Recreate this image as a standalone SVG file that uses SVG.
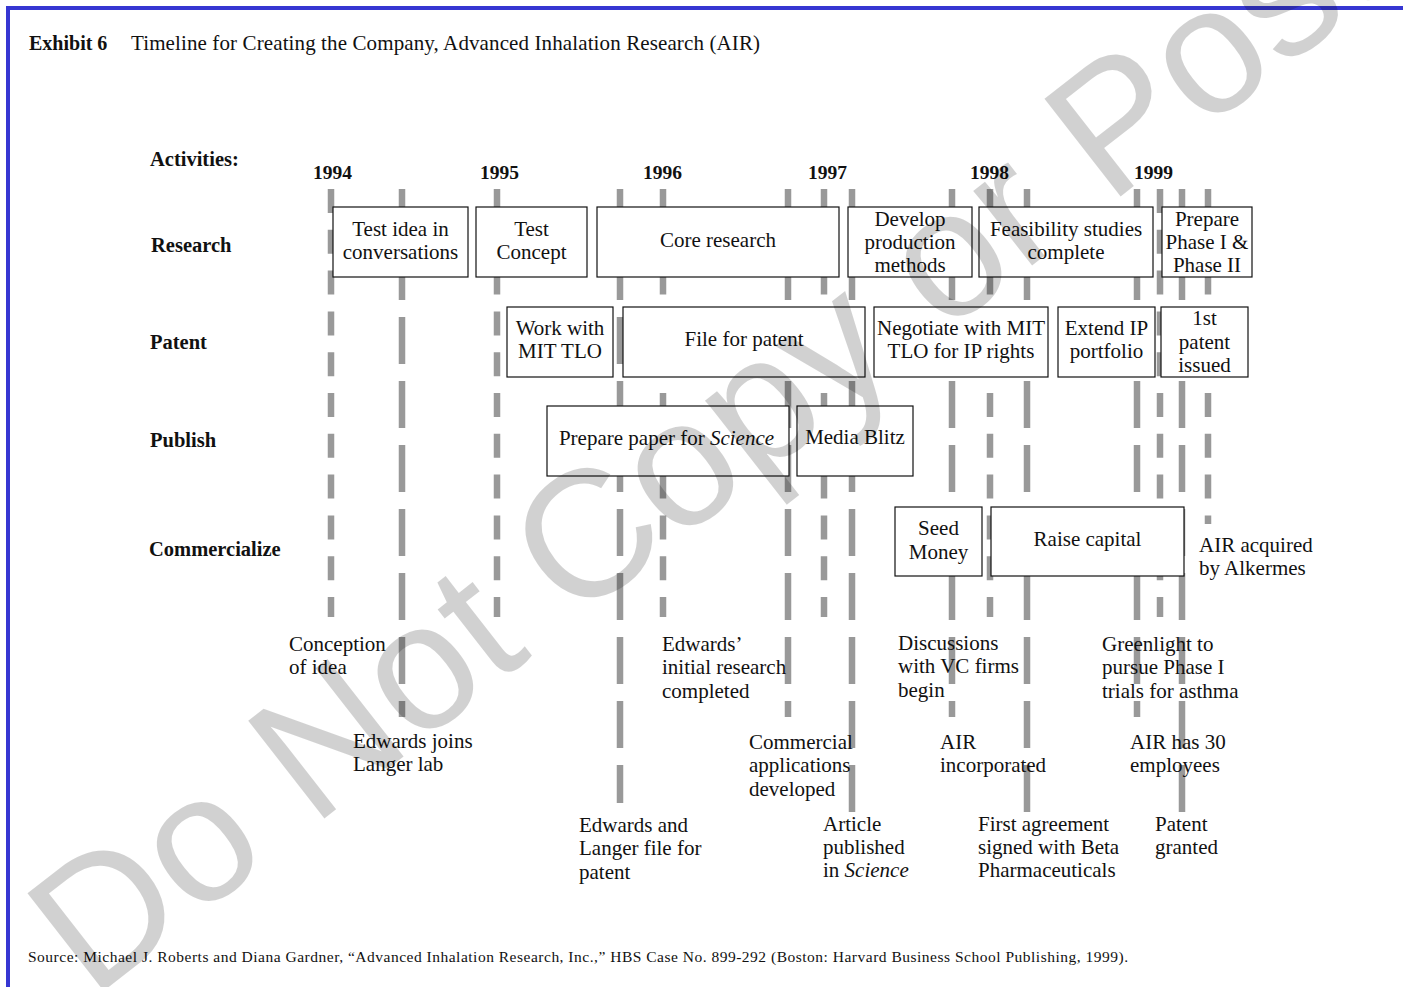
<svg xmlns="http://www.w3.org/2000/svg" width="1403" height="987" viewBox="0 0 1403 987">
<style>
text{font-family:"Liberation Serif","Times New Roman",serif;font-size:21px;fill:#111}
.b{font-weight:bold;font-size:20.5px}
.yr{font-weight:bold;font-size:19.5px}
.c{text-anchor:middle}
.i{font-style:italic}
.box{fill:#fff;stroke:#111;stroke-width:1.2}
.ln{stroke:#999;stroke-width:6.5;fill:none}
.s{stroke-dasharray:24 16.8}
.l{stroke-dasharray:47 17}
.wm{font-family:"Liberation Sans",Arial,sans-serif;font-size:180px;fill:#000;fill-opacity:0.18}
</style>
<rect x="0" y="0" width="1403" height="987" fill="#fff"/>
<g id="frame">
<line x1="6" y1="8" x2="1403" y2="8" stroke="#3636d2" stroke-width="4"/>
<line x1="8" y1="6" x2="8" y2="987" stroke="#3636d2" stroke-width="4"/>
</g>
<g id="title">
<text x="29" y="50" style="font-weight:bold;font-size:20px">Exhibit 6</text>
<text x="131" y="50" textLength="629" lengthAdjust="spacing">Timeline for Creating the Company, Advanced Inhalation Research (AIR)</text>
</g>
<g id="row-labels">
<text class="b" x="150" y="166">Activities:</text>
<text class="b" x="151" y="252">Research</text>
<text class="b" x="150" y="349">Patent</text>
<text class="b" x="150" y="447">Publish</text>
<text class="b" x="149" y="556">Commercialize</text>
</g>
<g id="years">
<text class="yr" x="313" y="179">1994</text>
<text class="yr" x="480" y="179">1995</text>
<text class="yr" x="643" y="179">1996</text>
<text class="yr" x="808" y="179">1997</text>
<text class="yr" x="970" y="179">1998</text>
<text class="yr" x="1134" y="179">1999</text>
</g>
<g id="connectors">
<line class="ln s" x1="331" y1="189" x2="331" y2="617"/>
<line class="ln l" x1="402" y1="189" x2="402" y2="717"/>
<line class="ln s" x1="497" y1="189" x2="497" y2="617"/>
<line class="ln l" x1="620" y1="189" x2="620" y2="803"/>
<line class="ln s" x1="663" y1="189" x2="663" y2="617"/>
<line class="ln l" x1="788" y1="189" x2="788" y2="717"/>
<line class="ln s" x1="824" y1="189" x2="824" y2="617"/>
<line class="ln l" x1="852" y1="189" x2="852" y2="812"/>
<line class="ln l" x1="952" y1="189" x2="952" y2="717"/>
<line class="ln s" x1="990" y1="189" x2="990" y2="617"/>
<line class="ln l" x1="1027" y1="189" x2="1027" y2="812"/>
<line class="ln l" x1="1137" y1="189" x2="1137" y2="717"/>
<line class="ln s" x1="1160" y1="189" x2="1160" y2="617"/>
<line class="ln l" x1="1182" y1="189" x2="1182" y2="812"/>
<line class="ln s" x1="1208" y1="189" x2="1208" y2="524"/>
</g>
<g id="n-test-idea"><rect class="box" x="333" y="207" width="135" height="70"/><text class="c" x="400.5" y="236">Test idea in</text><text class="c" x="400.5" y="259">conversations</text></g>
<g id="n-test-concept"><rect class="box" x="476" y="207" width="111" height="70"/><text class="c" x="531.5" y="236">Test</text><text class="c" x="531.5" y="259">Concept</text></g>
<g id="n-core-research"><rect class="box" x="597" y="207" width="242" height="70"/><text class="c" x="718" y="247">Core research</text></g>
<g id="n-develop"><rect class="box" x="848" y="207" width="124" height="70"/><text class="c" x="910" y="226">Develop</text><text class="c" x="910" y="249">production</text><text class="c" x="910" y="272">methods</text></g>
<g id="n-feasibility"><rect class="box" x="979" y="207" width="174" height="70"/><text class="c" x="1066" y="236">Feasibility studies</text><text class="c" x="1066" y="259">complete</text></g>
<g id="n-prepare-phase"><rect class="box" x="1162" y="207" width="90" height="70"/><text class="c" x="1207" y="226">Prepare</text><text class="c" x="1207" y="249">Phase I &amp;</text><text class="c" x="1207" y="272">Phase II</text></g>
<g id="n-mit-tlo"><rect class="box" x="507" y="307" width="106" height="70"/><text class="c" x="560" y="335">Work with</text><text class="c" x="560" y="358">MIT TLO</text></g>
<g id="n-file-patent"><rect class="box" x="623" y="307" width="242" height="70"/><text class="c" x="744" y="346">File for patent</text></g>
<g id="n-negotiate"><rect class="box" x="874" y="307" width="174" height="70"/><text class="c" x="961" y="335">Negotiate with MIT</text><text class="c" x="961" y="358">TLO for IP rights</text></g>
<g id="n-extend-ip"><rect class="box" x="1058" y="307" width="97" height="70"/><text class="c" x="1106.5" y="335">Extend IP</text><text class="c" x="1106.5" y="358">portfolio</text></g>
<g id="n-first-patent"><rect class="box" x="1161" y="307" width="87" height="70"/><text class="c" x="1204.5" y="325">1st</text><text class="c" x="1204.5" y="349">patent</text><text class="c" x="1204.5" y="372">issued</text></g>
<g id="n-paper"><rect class="box" x="547" y="406" width="242" height="70"/><text class="c" x="666.5" y="445">Prepare paper for <tspan class="i">Science</tspan></text></g>
<g id="n-media"><rect class="box" x="797" y="406" width="116" height="70"/><text class="c" x="855" y="444">Media Blitz</text></g>
<g id="n-seed"><rect class="box" x="895" y="507" width="87" height="69"/><text class="c" x="938.5" y="535">Seed</text><text class="c" x="938.5" y="559">Money</text></g>
<g id="n-raise"><rect class="box" x="991" y="507" width="193" height="69"/><text class="c" x="1087.5" y="546">Raise capital</text></g>
<g id="m-acquired"><text x="1199" y="552">AIR acquired</text><text x="1199" y="575">by Alkermes</text></g>
<g id="m-conception"><text x="289" y="651">Conception</text><text x="289" y="674">of idea</text></g>
<g id="m-initial"><text x="662" y="651">Edwards’</text><text x="662" y="674">initial research</text><text x="662" y="698">completed</text></g>
<g id="m-discussions"><text x="898" y="650">Discussions</text><text x="898" y="673">with VC firms</text><text x="898" y="697">begin</text></g>
<g id="m-greenlight"><text x="1102" y="651">Greenlight to</text><text x="1102" y="674">pursue Phase I</text><text x="1102" y="698">trials for asthma</text></g>
<g id="m-joins"><text x="353" y="748">Edwards joins</text><text x="353" y="771">Langer lab</text></g>
<g id="m-commercial"><text x="749" y="749">Commercial</text><text x="749" y="772">applications</text><text x="749" y="796">developed</text></g>
<g id="m-incorporated"><text x="940" y="749">AIR</text><text x="940" y="772">incorporated</text></g>
<g id="m-employees"><text x="1130" y="749">AIR has 30</text><text x="1130" y="772">employees</text></g>
<g id="m-file"><text x="579" y="832">Edwards and</text><text x="579" y="855">Langer file for</text><text x="579" y="879">patent</text></g>
<g id="m-article"><text x="823" y="831">Article</text><text x="823" y="854">published</text><text x="823" y="877">in <tspan class="i">Science</tspan></text></g>
<g id="m-agreement"><text x="978" y="831">First agreement</text><text x="978" y="854">signed with Beta</text><text x="978" y="877">Pharmaceuticals</text></g>
<g id="m-granted"><text x="1155" y="831">Patent</text><text x="1155" y="854">granted</text></g>
<g id="source"><text x="28" y="962" style="font-size:15.5px" textLength="1100" lengthAdjust="spacing">Source: Michael J. Roberts and Diana Gardner, “Advanced Inhalation Research, Inc.,” HBS Case No. 899-292 (Boston: Harvard Business School Publishing, 1999).</text></g>
<g id="watermark"><text class="wm" transform="translate(92,1000) rotate(-38)">Do Not Copy or Post</text></g>
</svg>
